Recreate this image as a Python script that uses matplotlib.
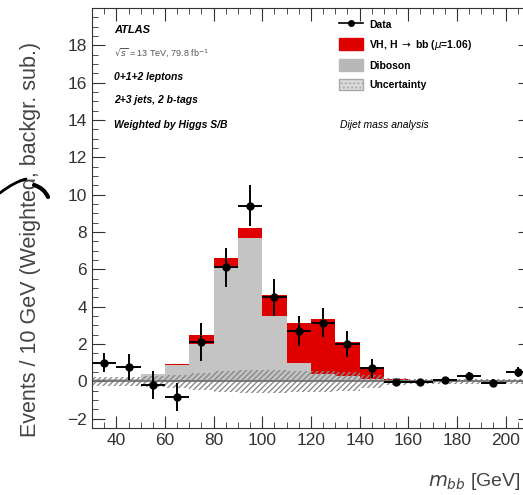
import numpy as np
import matplotlib
matplotlib.use("Agg")
import matplotlib.pyplot as plt
from matplotlib.patches import Patch, PathPatch
from matplotlib.lines import Line2D
from matplotlib.path import Path
from matplotlib.ticker import MultipleLocator
from matplotlib.transforms import Affine2D

plt.rcParams['font.family'] = ['Liberation Sans', 'DejaVu Sans']

### binning and values (10 GeV bins)
bin_lo = np.arange(30, 210, 10)
diboson = [0.1, 0.15, 0.4, 0.9, 2.0, 6.1, 7.7, 3.5, 1.0, 0.4, 0.3, 0.15, 0.05, 0.0, 0.0, 0.0, 0.0, 0.0]
signal = [0.0, 0.0, 0.0, 0.05, 0.5, 0.5, 0.5, 1.15, 2.15, 2.95, 1.8, 0.55, 0.05, 0.0, 0.0, 0.0, 0.0, 0.0]
unc = [0.25, 0.25, 0.3, 0.35, 0.45, 0.55, 0.6, 0.6, 0.55, 0.55, 0.5, 0.35, 0.2, 0.15, 0.15, 0.15, 0.15, 0.15]
data_x = bin_lo + 5
data_y = [1.0, 0.75, -0.2, -0.85, 2.1, 6.1, 9.4, 4.5, 2.7, 3.15, 2.0, 0.7, -0.05, -0.05, 0.05, 0.3, -0.1, 0.5]
data_err = [0.5, 0.7, 0.75, 0.75, 1.0, 1.05, 1.1, 1.0, 0.8, 0.8, 0.7, 0.5, 0.2, 0.2, 0.2, 0.2, 0.2, 0.25]
xticks = [40, 60, 80, 100, 120, 140, 160, 180, 200]
yticks = [-2, 0, 2, 4, 6, 8, 10, 12, 14, 16, 18]

red = '#df0000'
gray = '#c4c4c4'

fig = plt.figure(figsize=(5.23, 4.95), dpi=100)
ax = fig.add_axes([92/523, 67/495, 438/523, 420/495])

# stacked histogram
ax.bar(bin_lo, diboson, width=10, align='edge', color=gray, linewidth=0, zorder=1)
ax.bar(bin_lo, signal, width=10, align='edge', bottom=diboson, color=red, linewidth=0, zorder=1)

# uncertainty band around zero
edges = np.append(bin_lo, bin_lo[-1] + 10)
u = np.append(unc, unc[-1])
ax.fill_between(edges, -u, u, step='post', facecolor='none', edgecolor='#8a8a8a',
                hatch='//////', linewidth=0, zorder=2)
ax.axhline(0, color='#6a6a6a', lw=1.2, zorder=2)

# data
ax.errorbar(data_x, data_y, yerr=data_err, xerr=5, fmt='o', color='black',
            ms=5, elinewidth=1.4, capsize=0, zorder=4)

ax.set_xlim(30, 210)
ax.set_ylim(-2.5, 20)
ax.set_xticks(xticks)
ax.set_yticks(yticks)
ax.xaxis.set_minor_locator(MultipleLocator(5))
ax.yaxis.set_minor_locator(MultipleLocator(0.5))
ax.tick_params(which='both', direction='in', top=True, right=True, labelsize=12.5,
               colors='#333333')
ax.tick_params(which='major', length=9)
ax.tick_params(which='minor', length=4.5)
for s in ax.spines.values():
    s.set_color('#333333')

ax.set_ylabel('Events / 10 GeV (Weighted, backgr. sub.)', fontsize=15.5, color='#444444')
ax.yaxis.set_label_coords(-0.116, 0.45)
fig.text(521/523, 1 - 482/495, r'$m_{bb}$ [GeV]', fontsize=14, color='#444444',
         va='center', ha='right')

# labels
ax.text(0.05, 0.948, 'ATLAS', transform=ax.transAxes, fontsize=8, weight='bold',
        style='italic', va='center')
ax.text(0.05, 0.895, r'$\sqrt{s}$ = 13 TeV, 79.8 fb$^{-1}$', transform=ax.transAxes,
        fontsize=6.5, va='center', color='#555555')
for yy, t in [(0.836, '0+1+2 leptons'), (0.781, '2+3 jets, 2 b-tags'),
              (0.721, 'Weighted by Higgs S/B')]:
    ax.text(0.05, yy, t, transform=ax.transAxes, fontsize=7.5, style='italic',
            weight='bold', va='center')
ax.text(0.566, 0.721, 'Dijet mass analysis', transform=ax.transAxes, fontsize=7.5,
        style='italic', va='center')

handles = [
    Line2D([], [], color='black', marker='o', ms=4, lw=1.2),
    Patch(facecolor=red, edgecolor=red),
    Patch(facecolor='#b8b8b8', edgecolor='#b8b8b8'),
    Patch(facecolor='#dcdcdc', edgecolor='#aaaaaa', hatch='....'),
]
labels = ['Data', r'VH, H $\rightarrow$ bb ($\mu$=1.06)', 'Diboson', 'Uncertainty']
leg = ax.legend(handles, labels, loc='upper left', bbox_to_anchor=(0.555, 0.985),
                frameon=False, fontsize=7.5, handlelength=2.3, handleheight=1.3,
                labelspacing=0.75, handletextpad=0.6, borderaxespad=0)
for txt in leg.get_texts():
    txt.set_fontweight('bold')

# hand-drawn curved stroke at the left edge (pixel coords, y downwards)
curve1 = Path([(0, 193), (14, 182), (26, 179)], [Path.MOVETO, Path.CURVE3, Path.CURVE3])
curve2 = Path([(34, 185), (44, 188), (48, 197)], [Path.MOVETO, Path.CURVE3, Path.CURVE3])
flip = Affine2D().scale(1 / 523, -1 / 495).translate(0, 1) + fig.transFigure
for c, lw in [(curve1, 2.0), (curve2, 3.0)]:
    fig.add_artist(PathPatch(c, facecolor='none', edgecolor='black', lw=lw,
                             transform=flip, capstyle='round'))

fig.savefig('out.png', dpi=100)
